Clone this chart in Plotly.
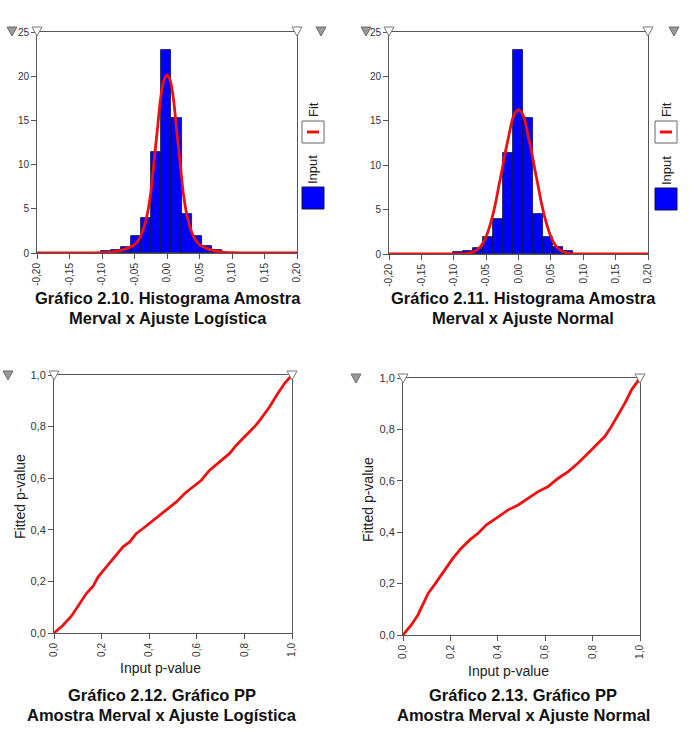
import plotly.graph_objects as go

W, H = 689, 734

# ---------------- data ----------------
bin_centers = [-0.0936, -0.0781, -0.0627, -0.0472, -0.0318, -0.0163,
               -0.0009, 0.0146, 0.0300, 0.0455, 0.0609, 0.0764]
bin_heights = [0.2, 0.3, 0.7, 1.95, 3.95, 11.4, 22.95, 15.3, 4.45, 1.9, 0.8, 0.35]
bin_width = 0.01545

logis_x = [-0.20, -0.12, -0.10, -0.09, -0.08, -0.07, -0.06, -0.05, -0.045, -0.04,
           -0.035, -0.03, -0.025, -0.02, -0.015, -0.01, -0.005, 0.0,
           0.005, 0.01, 0.015, 0.02, 0.025, 0.03, 0.035, 0.04, 0.045, 0.05,
           0.06, 0.07, 0.08, 0.09, 0.10, 0.12, 0.20]
logis_y = [0.0, 0.01, 0.03, 0.07, 0.15, 0.3, 0.55, 0.95, 1.35, 2.0,
           3.0, 4.5, 6.8, 10.3, 13.8, 17.4, 19.5, 20.15,
           19.5, 17.4, 13.8, 10.3, 6.8, 4.5, 3.0, 2.0, 1.35, 0.95,
           0.55, 0.3, 0.15, 0.07, 0.03, 0.01, 0.0]

norm_x = [-0.20, -0.10, -0.09, -0.08, -0.07, -0.065, -0.06, -0.055, -0.05, -0.045,
          -0.04, -0.035, -0.03, -0.025, -0.02, -0.015, -0.01, -0.005, 0.0,
          0.005, 0.01, 0.015, 0.02, 0.025, 0.03, 0.035, 0.04, 0.045, 0.05,
          0.055, 0.06, 0.065, 0.07, 0.08, 0.09, 0.10, 0.20]
norm_y = [0.0, 0.0, 0.01, 0.05, 0.22, 0.42, 0.72, 1.2, 1.95, 3.0,
          4.3, 5.9, 7.8, 9.6, 11.6, 13.3, 15.0, 15.9, 16.25,
          15.9, 15.0, 13.3, 11.6, 9.6, 7.8, 5.9, 4.3, 3.0, 1.95,
          1.2, 0.72, 0.42, 0.22, 0.05, 0.01, 0.0, 0.0]

pp_logis_x = [0.0, 0.038, 0.073, 0.108, 0.136, 0.164, 0.185, 0.220, 0.255, 0.290,
              0.318, 0.346, 0.374, 0.409, 0.444, 0.472, 0.514, 0.549, 0.584, 0.619,
              0.654, 0.696, 0.738, 0.766, 0.808, 0.843, 0.871, 0.906, 0.941, 0.969, 1.0]
pp_logis_y = [0.0, 0.030, 0.065, 0.116, 0.153, 0.181, 0.217, 0.256, 0.295, 0.334,
              0.353, 0.386, 0.405, 0.431, 0.457, 0.476, 0.508, 0.541, 0.567, 0.592,
              0.631, 0.664, 0.696, 0.728, 0.767, 0.800, 0.832, 0.877, 0.929, 0.968, 1.0]

pp_norm_x = [0.0, 0.035, 0.063, 0.085, 0.106, 0.134, 0.162, 0.183, 0.211, 0.246,
             0.282, 0.317, 0.352, 0.394, 0.444, 0.486, 0.528, 0.570, 0.613, 0.655,
             0.697, 0.739, 0.782, 0.824, 0.852, 0.880, 0.908, 0.937, 0.965, 1.0]
pp_norm_y = [0.0, 0.039, 0.078, 0.123, 0.162, 0.197, 0.234, 0.266, 0.299, 0.338,
             0.370, 0.396, 0.429, 0.455, 0.487, 0.506, 0.532, 0.558, 0.578, 0.610,
             0.636, 0.669, 0.708, 0.747, 0.773, 0.812, 0.857, 0.903, 0.955, 1.0]

hist_xticks = [-0.20, -0.15, -0.10, -0.05, 0.0, 0.05, 0.10, 0.15, 0.20]
hist_xtext = ["-0,20", "-0,15", "-0,10", "-0,05", "0,00", "0,05", "0,10", "0,15", "0,20"]
hist_yticks = [0, 5, 10, 15, 20, 25]
hist_ytext = ["0", "5", "10", "15", "20", "25"]
pp_ticks = [0.0, 0.2, 0.4, 0.6, 0.8, 1.0]
pp_text = ["0,0", "0,2", "0,4", "0,6", "0,8", "1,0"]

captions = [
    ("Gráfico 2.10. Histograma Amostra", "Merval x Ajuste Logística"),
    ("Gráfico 2.11. Histograma Amostra", "Merval x Ajuste Normal"),
    ("Gráfico 2.12. Gráfico PP", "Amostra Merval x Ajuste Logística"),
    ("Gráfico 2.13. Gráfico PP", "Amostra Merval x Ajuste Normal"),
]

# ---------------- layout helpers ----------------
def px(x):
    return x / W

def py(y):
    return 1 - y / H

FONT = "Liberation Sans, Arial, sans-serif"
AX_COL = "#555555"
TXT_COL = "#333333"
RED = "#ee1111"
BLUE = "#0000ff"

# plot boxes in pixels: (x0, x1, ytop, ybottom)
boxes = [(37, 297, 32, 253), (389, 648, 32, 254), (54, 292, 375, 633), (403, 640, 378, 635)]

fig = go.Figure()

def axis_common(box, horizontal):
    x0, x1, yt, yb = box
    d = dict(showline=True, linecolor=AX_COL, linewidth=1, mirror=True,
             ticks="outside", ticklen=5, tickcolor=AX_COL, showgrid=False,
             zeroline=False, tickfont=dict(family=FONT, size=10, color=TXT_COL),
             fixedrange=True, automargin=False)
    if horizontal:
        d["domain"] = [px(x0), px(x1)]
    else:
        d["domain"] = [py(yb), py(yt)]
    return d

layout = {}
for i, box in enumerate(boxes):
    n = "" if i == 0 else str(i + 1)
    xa = axis_common(box, True)
    ya = axis_common(box, False)
    xa["anchor"] = "y" + n
    ya["anchor"] = "x" + n
    xa["tickangle"] = -90
    if i < 2:
        xa.update(range=[-0.2, 0.2], tickvals=hist_xticks, ticktext=hist_xtext)
        ya.update(range=[0, 25], tickvals=hist_yticks, ticktext=hist_ytext)
    else:
        xa.update(range=[0, 1], tickvals=pp_ticks, ticktext=pp_text)
        ya.update(range=[0, 1], tickvals=pp_ticks, ticktext=pp_text)
        ya["tickfont"] = dict(family=FONT, size=11, color=TXT_COL)
    layout["xaxis" + n] = xa
    layout["yaxis" + n] = ya

# ---------------- traces ----------------
for i, (fx, fy) in enumerate([(logis_x, logis_y), (norm_x, norm_y)]):
    n = "" if i == 0 else str(i + 1)
    fig.add_trace(go.Bar(x=bin_centers, y=bin_heights, width=bin_width,
                         marker=dict(color=BLUE, line=dict(color="#101040", width=0.8)),
                         xaxis="x" + n, yaxis="y" + n, showlegend=False))
    fig.add_trace(go.Scatter(x=fx, y=fy, mode="lines",
                             line=dict(color=RED, width=2.8, shape="spline", smoothing=0.6),
                             xaxis="x" + n, yaxis="y" + n, showlegend=False, cliponaxis=False))

for i, (qx, qy) in enumerate([(pp_logis_x, pp_logis_y), (pp_norm_x, pp_norm_y)]):
    n = str(i + 3)
    fig.add_trace(go.Scatter(x=qx, y=qy, mode="lines", line=dict(color=RED, width=2.8),
                             xaxis="x" + n, yaxis="y" + n, showlegend=False, cliponaxis=False))

# ---------------- decorations ----------------
shapes = []
annotations = []

def tri(cx, top, fill, line):
    p = "M {} {} L {} {} L {} {} Z".format(px(cx - 5), py(top), px(cx + 5), py(top), px(cx), py(top + 9))
    shapes.append(dict(type="path", xref="paper", yref="paper", path=p,
                       fillcolor=fill, line=dict(color=line, width=1), layer="above"))

GRAY_F, GRAY_L = "#9a9a9a", "#6a6a6a"
tri(12, 27, GRAY_F, GRAY_L); tri(37, 27, "white", "#777777"); tri(297, 27, "white", "#777777"); tri(321, 27, GRAY_F, GRAY_L)
tri(366, 27, GRAY_F, GRAY_L); tri(389, 27, "white", "#777777"); tri(648, 27, "white", "#777777"); tri(674, 27, GRAY_F, GRAY_L)
tri(8, 371, GRAY_F, GRAY_L); tri(54, 371, "white", "#777777"); tri(292, 371, "white", "#777777")
tri(356, 374, GRAY_F, GRAY_L); tri(403, 374, "white", "#777777"); tri(640, 374, "white", "#777777")

def rect(x0, y0, x1, y1, fill, line):
    shapes.append(dict(type="rect", xref="paper", yref="paper",
                       x0=px(x0), x1=px(x1), y0=py(y1), y1=py(y0),
                       fillcolor=fill, line=dict(color=line, width=1)))

def text(t, x, y, size, color="#222222", angle=0):
    annotations.append(dict(text=t, x=px(x), y=py(y), xref="paper", yref="paper",
                            xanchor="center", yanchor="middle", showarrow=False,
                            textangle=angle, font=dict(family=FONT, size=size, color=color)))

def legend(xc, fit_top, input_top):
    rect(xc - 11, fit_top, xc + 11, fit_top + 22, "white", "#666666")
    shapes.append(dict(type="line", xref="paper", yref="paper",
                       x0=px(xc - 6), x1=px(xc + 6), y0=py(fit_top + 11), y1=py(fit_top + 11),
                       line=dict(color=RED, width=3)))
    rect(xc - 11, input_top, xc + 11, input_top + 22, BLUE, "#101040")
    text("Fit", xc, fit_top - 11, 13, angle=-90)
    text("Input", xc, input_top - 17, 13, angle=-90)

legend(313, 121, 187)
legend(666, 121, 188)

# axis titles for PP plots
text("Fitted p-value", 20, 497, 14, angle=-90)
text("Input p-value", 160, 668, 14)
text("Fitted p-value", 368, 500, 14, angle=-90)
text("Input p-value", 508, 671, 14)

# captions
cap_pos = [(168, 298), (523, 298), (162, 695), (523, 695)]
for (l1, l2), (cx, cy) in zip(captions, cap_pos):
    text("<b>" + l1 + "</b>", cx, cy, 16.5, color="#111111")
    text("<b>" + l2 + "</b>", cx, cy + 20, 16.5, color="#111111")

fig.update_layout(width=W, height=H, margin=dict(l=0, r=0, t=0, b=0, autoexpand=False),
                  paper_bgcolor="white", plot_bgcolor="white", bargap=0,
                  shapes=shapes, annotations=annotations, **layout)

fig.write_html("out.html", config={"displayModeBar": False},
               post_script="document.body.style.margin='0';document.body.style.padding='0';")
